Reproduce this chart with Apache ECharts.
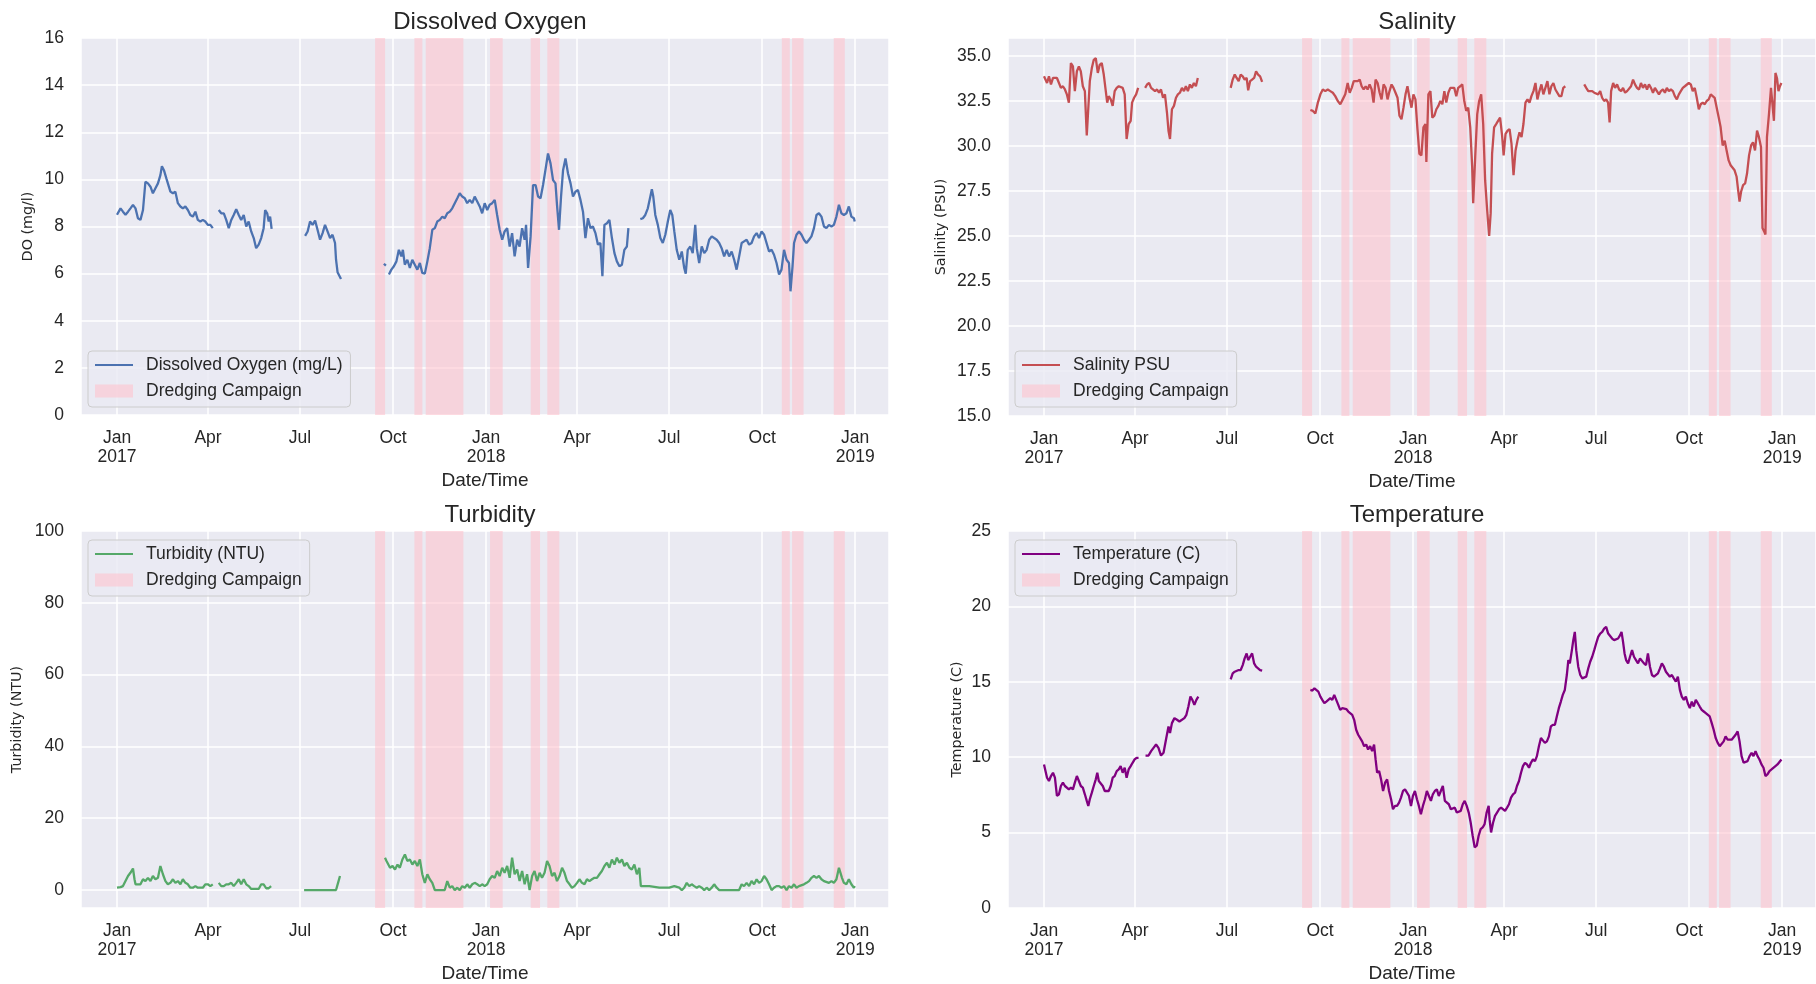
<!DOCTYPE html>
<html><head><meta charset="utf-8">
<script src="https://cdn.jsdelivr.net/npm/echarts@6/dist/echarts.min.js"></script>
<style>html,body{margin:0;padding:0;background:#fff}#c{width:1816px;height:984px}</style>
</head><body><div id="c"></div>
<script>
// ---------- DATA (x = days since 2017-01-01, null = gap in record) ----------
const monthLabels = ['Jan','Feb','Mar','Apr','May','Jun','Jul','Aug','Sep','Oct','Nov','Dec'];
const panelTitles = ['Dissolved Oxygen','Salinity','Turbidity','Temperature'];
const seriesNames = ['Dissolved Oxygen (mg/L)','Salinity PSU','Turbidity (NTU)','Temperature (C)'];
const yAxisNames = ['DO (mg/l)','Salinity (PSU)','Turbidity (NTU)','Temperature (C)'];
const xAxisName = 'Date/Time';
const dredgeName = 'Dredging Campaign';
// dredging campaigns [start day, end day] since 2017-01-01
const dredgeSpans = [[255.2,265.1],[294.1,302],[305.3,342.5],[368.9,381.4],[409.1,418.3],[425.5,437.4],[657.4,665.3],[667.6,678.9],[708.8,719.7]];

const doData = [
[0,8.5],[1,8.56],[3.5,8.77],[5.9,8.63],[8.4,8.5],[10.9,8.63],[13.3,8.77],[15.8,8.92],[18.3,8.77],[20.7,8.35],[23.2,8.28],[25.7,8.7],[28.1,9.9],[30.6,9.83],[33.1,9.69],[35.5,9.41],[38,9.62],[40.5,9.83],[42.9,10.18],[44.4,10.56],[46.4,10.39],[48.8,10.04],[51.3,9.69],[52.8,9.48],[55.3,9.41],[57.7,9.48],[60.2,8.99],[62.7,8.85],[65.1,8.77],[67.6,8.85],[70.1,8.7],[72.5,8.49],[75,8.42],[77.5,8.63],[79.9,8.28],[82.4,8.21],[84.9,8.28],[87.3,8.21],[89.8,8.07],[92.3,8.07],[94.7,7.93],
null,
[100.6,8.7],[103.1,8.56],[105.6,8.56],[108,8.28],[110.5,7.93],[113,8.28],[115.4,8.49],[117.9,8.73],[120.4,8.49],[122.8,8.28],[125.3,8.49],[127.8,8.0],[130.2,8.21],[132.7,7.79],[135.2,7.51],[137.6,7.08],[140.1,7.23],[142.6,7.51],[145,7.93],[146.5,8.7],[148.5,8.56],[150,8.21],[151.4,8.42],[152.9,7.9],
null,
[186,7.6],[188.5,7.79],[190.9,8.21],[193.4,8.07],[195.9,8.25],[198.3,7.86],[200.8,7.44],[203.3,7.72],[205.7,8.07],[208.2,7.79],[210.7,7.51],[213.1,7.65],[215.6,7.3],[216.6,6.59],[218.1,6.06],[220,6.03],[221.5,5.77],
null,
[263.9,6.42],[265.9,6.34],
null,
[268.9,5.96],[271.3,6.17],[273.8,6.31],[276.3,6.52],[278.7,7.01],[281.2,6.73],[282.7,7.01],[284.6,6.38],[287.1,6.59],[289.6,6.24],[292,6.59],[294.5,6.38],[297,6.17],[299.5,6.45],[301.9,6.03],[304.4,6.0],[306.9,6.52],[309.3,7.08],[311.8,7.86],[314.3,7.93],[316.7,8.21],[319.2,8.28],[321.7,8.42],[324.1,8.35],[326.6,8.56],[329.1,8.63],[331.5,8.77],[334,8.99],[336.5,9.2],[338.9,9.41],[341.4,9.27],[343.9,9.2],[346.3,8.99],[348.8,9.13],[351.3,8.99],[353.7,9.27],[356.2,9.06],[358.7,8.85],[361.1,8.56],[363.6,8.99],[366.1,8.7],[368.5,8.92],[371,8.99],[373.5,9.13],[375.9,8.49],[378.4,7.86],[380.9,7.44],[383.3,7.79],[385.8,7.93],[388.3,7.15],[390.7,7.72],[393.2,6.73],[395.7,7.44],[398.1,7.15],[400.6,7.93],[403.1,7.44],[404.5,8.07],[406.5,6.24],[409,7.58],[411.4,9.76],[413.9,9.76],[416.4,9.27],[418.8,9.2],[421.3,9.76],[424.2,10.54],[426.2,11.1],[428.7,10.68],[431.2,9.97],[433.6,9.83],[435.1,8.92],[437.1,7.86],[439.1,9.27],[441.1,10.39],[443.5,10.89],[446,10.25],[448.5,9.83],[450.9,9.27],[453.4,9.48],[455.8,9.55],[458.3,9.13],[460.8,8.63],[463.2,7.51],[465.7,8.35],[468.2,7.93],[470.6,8.0],[473.1,7.72],[475.6,7.23],[478,7.3],[480,5.89],[482,8.07],[484.5,8.14],[486.9,8.28],[489.4,7.51],[491.9,6.87],[494.3,6.52],[496.8,6.31],[499.3,6.38],[501.7,7.01],[504.2,7.15],[505.7,7.93],
null,
[517.5,8.31],[520,8.35],[522.4,8.49],[524.9,8.77],[527.4,9.27],[528.9,9.58],[530.3,9.27],[532.3,8.49],[534.8,8.07],[537.3,7.51],[539.7,7.3],[542.2,7.65],[544.7,8.21],[547.1,8.7],[549.1,8.49],[551.1,7.79],[553.5,7.01],[556,6.59],[558.5,6.94],[560.9,6.24],[562.4,6.0],[564.4,7.01],[566.9,7.15],[569.3,6.87],[571.8,8.07],[573.3,7.08],[575.7,6.45],[578.2,7.15],[580.7,6.87],[583.1,7.01],[585.6,7.44],[588.1,7.58],[590.5,7.51],[593,7.44],[595.5,7.3],[597.9,7.08],[600.4,6.73],[602.9,7.01],[605.3,6.73],[607.8,6.94],[610.3,6.59],[612.7,6.17],[615.2,6.73],[617.7,7.3],[620.1,7.37],[622.6,7.44],[625.1,7.23],[627.5,7.3],[630,7.58],[632.5,7.72],[634.9,7.51],[637.4,7.79],[639.9,7.65],[642.3,7.3],[644.8,6.94],[647.3,7.01],[649.7,6.8],[652.2,6.45],[654.7,5.96],[657.1,6.17],[659.6,7.01],[662.1,6.59],[664.5,6.45],[666,5.25],[668,6.31],[669.5,7.3],[671.9,7.65],[674.4,7.79],[676.9,7.65],[679.3,7.44],[681.8,7.3],[684.3,7.44],[686.7,7.58],[689.2,7.93],[691.7,8.49],[694.1,8.56],[696.6,8.42],[699.1,8.0],[701.5,7.93],[704,8.07],[706.5,8.0],[708.9,8.07],[711.4,8.42],[713.9,8.92],[716.3,8.56],[718.8,8.49],[721.3,8.56],[723.7,8.85],[726.2,8.42],[728.7,8.35],[729.5,8.21]
];

const salinityData = [
[0,33.87],[1,33.78],[3,33.5],[4.9,33.87],[6.9,33.42],[8.9,33.78],[10.8,33.69],[12.8,33.78],[14.8,33.5],[16.7,33.23],[18.7,33.32],[20.7,33.14],[22.6,32.87],[24.6,32.41],[26.6,34.61],[28.6,34.42],[30.5,33.05],[32.5,34.15],[34.5,34.42],[36.4,34.15],[38.4,33.32],[40.4,33.05],[42.3,30.58],[43.3,30.49],[45.3,33.6],[47.3,34.33],[49.2,34.79],[51.2,34.88],[53.2,34.06],[55.1,34.51],[57.1,34.61],[59.1,33.97],[61.1,33.05],[62.5,32.41],[64,32.77],[66,32.59],[67.9,32.23],[69.9,33.05],[71.9,33.23],[73.9,33.32],[75.8,33.42],[77.8,33.23],[79.8,32.87],[81.7,30.39],[83.7,31.22],[85.7,31.4],[87.1,32.41],[89.1,32.68],[91.1,32.87],[93.1,33.23],
null,
[100,33.23],[101.9,33.42],[103.9,33.5],[105.9,33.23],[107.8,33.32],[109.8,33.05],[111.8,33.14],[113.7,32.96],[115.7,33.14],[117.7,32.68],[119.6,32.87],[121.6,31.86],[123.1,30.85],[124.6,30.39],[126.5,32.04],[128.5,32.23],[130.5,32.68],[132.4,32.87],[134.4,32.96],[136.4,33.23],[138.4,33.05],[140.3,33.32],[142.3,33.05],[144.3,33.42],[146.2,33.23],[148.2,33.5],[150.2,33.32],[152.1,33.78],
null,
[184.6,33.23],[186.6,33.69],[188.6,33.97],[190.5,33.78],[192.5,33.6],[194.5,33.97],[196.5,33.87],[198.4,33.69],[200.4,33.78],[201.9,33.09],[203.8,33.6],[205.8,33.69],[207.8,33.78],[209.7,34.15],[211.7,33.97],[213.7,33.87],[215.7,33.56],
null,
[263.4,32.0],[265.9,31.95],[268.3,31.8],[270.8,32.41],[273.3,32.87],[275.7,33.14],[278.2,33.05],[280.6,33.14],[283.1,33.05],[285.6,32.96],[288,32.77],[290.5,32.5],[293,32.32],[295.4,32.59],[297.9,32.87],[300.3,33.5],[302.3,32.96],[304.3,33.23],[306.3,33.6],[308.2,33.69],[310.2,33.6],[312.2,33.69],[314.1,33.32],[316.1,33.14],[318.1,33.32],[320,33.14],[322,33.42],[324,33.14],[325.9,32.41],[327.9,33.69],[329.9,33.5],[331.9,32.96],[333.8,32.59],[335.8,33.42],[337.8,33.23],[339.7,32.59],[341.7,33.05],[343.7,33.42],[345.6,33.23],[347.6,32.96],[349.6,32.68],[351.5,31.68],[353.5,31.49],[355.5,32.13],[357.5,32.87],[359.4,33.32],[361.4,32.68],[363.4,32.13],[365.3,32.87],[367.3,32.59],[369.3,30.94],[371.2,29.57],[373.2,29.48],[375.2,31.04],[377.2,31.22],[378.1,29.11],[380.1,32.87],[382.1,33.05],[384,31.58],[386,31.68],[388,32.04],[390,32.23],[391.9,32.5],[393.9,32.32],[395.9,33.05],[397.8,32.41],[399.8,32.96],[401.8,33.23],[403.7,33.32],[405.7,33.23],[407.7,32.77],[409.6,33.23],[411.6,33.32],[413.6,33.42],[415.6,32.5],[417.5,31.95],[419.5,32.13],[421.5,31.04],[423.4,28.84],[424.4,26.82],[426.4,29.39],[428.4,31.77],[430.3,32.5],[432.3,32.87],[434.3,31.22],[436.2,28.1],[438.2,26.46],[440.2,25.0],[441.7,26.27],[443.1,29.57],[445.1,31.04],[447.1,31.22],[449,31.4],[451,31.58],[453,30.58],[454.5,29.48],[456.4,30.67],[458.4,30.85],[460.4,30.94],[462.3,30.12],[464.3,28.38],[466.3,29.75],[468.2,30.3],[470.2,30.76],[472.2,30.49],[474.1,31.22],[476.1,32.41],[478.1,32.59],[480.1,32.41],[482,32.77],[484,33.05],[486,33.5],[487.9,32.59],[489.9,33.05],[491.9,33.42],[493.8,32.87],[495.8,33.23],[497.8,33.6],[499.8,32.87],[501.7,33.32],[503.7,33.5],[505.7,33.14],[507.6,33.23],[509.6,32.77],[511.6,32.77],[513.5,33.23],[515.5,33.32],
null,
[534.2,33.42],[536.2,33.23],[538.2,33.05],[540.1,32.96],[542.1,33.05],[544.1,32.96],[546,33.05],[548,32.87],[550,33.05],[551.9,32.68],[553.9,32.5],[555.9,32.59],[557.8,32.41],[559.3,31.31],[560.8,33.05],[562.8,33.5],[564.7,33.23],[566.7,33.42],[568.7,33.14],[570.7,33.05],[572.6,33.23],[574.6,32.96],[576.6,33.05],[578.5,33.14],[580.5,33.32],[582.5,33.69],[584.4,33.42],[586.4,33.23],[588.4,33.14],[590.3,33.5],[592.3,33.23],[594.3,33.42],[596.3,33.14],[598.2,33.42],[600.2,33.23],[602.2,32.96],[604.1,33.23],[606.1,33.05],[608.1,32.87],[610,33.05],[612,33.14],[614,32.96],[615.9,33.23],[617.9,33.05],[619.9,33.14],[621.9,33.05],[623.8,32.77],[625.8,32.59],[627.8,32.87],[629.7,33.05],[631.7,33.23],[633.7,33.32],[635.6,33.42],[637.6,33.5],[639.6,33.42],[641.5,33.05],[643.5,33.23],[645.5,32.68],[647.5,32.04],[649.4,32.32],[651.4,32.41],[653.4,32.32],[655.3,32.5],[657.3,32.59],[659.3,32.87],[661.2,32.96],[663.2,32.68],[665.2,32.13],[667.2,31.58],[669.1,31.04],[671.1,30.03],[673.1,30.3],[675,29.75],[677,29.2],[679,28.93],[680.9,29.02],[682.9,28.65],[684.9,28.29],[686.4,27.55],[687.8,26.91],[689.3,27.46],[691.3,27.83],[693.3,27.92],[695.2,28.47],[697.2,29.48],[699.2,30.03],[701.1,30.21],[703.1,29.75],[705.1,30.85],[707,30.49],[709,29.94],[710.5,25.45],[712,25.27],[713.4,25.08],[714.9,30.49],[716.9,31.77],[718.9,33.23],[720.8,33.14],[721.8,31.4],[723.3,34.06],[724.8,33.78],[726.3,33.05],[727.7,33.32],[729.2,33.5]
];

const turbidityData = [
[0,0.65],[1,0.8],[3.5,0.8],[5.9,1.1],[8.4,2.5],[10.9,3.9],[13.3,4.8],[15.8,6.0],[17.3,3.0],[18.3,1.6],[20.7,1.6],[23.2,1.6],[25.7,3.0],[28.1,2.5],[30.6,3.4],[33.1,2.5],[35.5,3.9],[38,3.0],[40.5,3.4],[42.9,6.7],[45.4,4.4],[47.9,2.5],[50.3,1.6],[52.8,2.0],[55.3,3.0],[57.7,2.0],[60.2,2.5],[62.7,1.6],[65.1,3.0],[67.6,2.0],[70.1,1.6],[72.5,0.65],[75,0.65],[77.5,1.1],[79.9,0.65],[82.4,0.65],[84.9,0.65],[87.3,1.6],[89.8,1.6],[92.3,1.1],[94.7,1.6],
null,
[100.6,2.0],[103.1,1.1],[105.6,1.1],[108,1.6],[110.5,1.6],[113,2.0],[115.4,1.1],[117.9,2.0],[120.4,3.0],[122.8,1.6],[125.3,3.0],[127.8,1.6],[130.2,1.1],[132.7,0.3],[135.2,0.3],[137.6,0.3],[140.1,0.3],[142.6,1.6],[145,1.6],[147.5,0.5],[150,0.5],[152.4,1.1],
null,
[185,0],[195.9,0],[205.7,0],[216.6,0],[218.6,2.0],[220.5,3.9],
null,
[265,9.0],[266.5,8.1],[268,7.6],[270,6.2],[272.5,6.7],[274.9,5.7],[277.4,7.1],[279.7,6.2],[282.2,8.5],[284.7,9.9],[287.1,8.1],[289.6,8.5],[292.1,7.1],[294.5,8.1],[297,6.7],[299.5,8.5],[301.9,4.4],[304.4,2.0],[306.9,4.4],[309.3,3.0],[311.8,2.0],[314.3,0],[324.1,0],[326.6,2.5],[329.1,0.65],[331.5,1.1],[334,0],[336.5,0.65],[338.9,0],[341.4,1.1],[343.9,0.65],[346.3,1.6],[348.8,0.65],[351.3,1.6],[353.7,2.0],[356.2,1.6],[358.7,1.1],[361.1,1.6],[363.6,1.1],[366.1,1.6],[368.5,3.0],[371,3.9],[373.5,3.4],[375.9,5.3],[378.4,3.9],[380.9,6.2],[383.3,4.8],[385.8,6.7],[388.3,3.4],[390.7,9.0],[393.2,4.4],[395.7,5.7],[398.1,2.5],[400.6,5.3],[403.1,1.6],[405.5,4.4],[408,0],[410.5,3.9],[412.9,5.3],[415.4,2.5],[417.9,4.8],[420.3,3.4],[422.8,4.8],[425.3,8.1],[427.7,6.7],[430.2,3.9],[432.7,4.8],[435.1,2.5],[437.6,3.9],[440.1,6.2],[442.5,4.8],[445,2.5],[447.5,1.6],[449.9,0.65],[452.4,1.1],[454.9,2.0],[457.3,3.0],[459.8,2.0],[462.3,1.6],[464.7,3.0],[467.2,2.5],[469.7,3.0],[472.1,3.4],[474.6,3.4],[477.1,4.4],[479.5,5.3],[482,6.7],[484.5,7.6],[486.9,6.2],[489.4,8.5],[491.9,7.1],[494.3,9.0],[496.8,7.6],[499.3,8.5],[501.7,6.7],[504.2,7.6],[506.7,6.2],[509.1,5.7],[511.6,7.1],[514.1,4.4],[516.5,6.2],[518,1.1],[526.4,1.1],[536.3,0.65],[546.1,0.65],[551.1,1.1],[556,0.65],[558.5,0],[560.9,0.65],[563.4,2.0],[565.9,1.1],[568.3,1.6],[570.8,1.1],[573.3,0.65],[575.7,1.1],[578.2,0.65],[580.7,0],[583.1,0.65],[585.6,0],[588.1,0.65],[590.5,1.6],[593,0.65],[595.5,0],[615.2,0],[617.7,1.6],[620.1,1.1],[622.6,2.0],[625.1,1.1],[627.5,2.5],[630,1.6],[632.5,3.0],[634.9,2.0],[637.4,2.5],[639.9,3.9],[642.3,3.0],[644.8,1.6],[647.3,0],[649.7,0.65],[652.2,1.1],[654.7,1.1],[657.1,0.65],[659.6,1.1],[662.1,0],[664.5,1.1],[667,0.65],[669.5,1.6],[671.9,0.65],[674.4,1.1],[679.3,1.6],[681.8,2.0],[684.3,2.5],[686.7,3.4],[689.2,3.9],[691.7,3.4],[694.1,3.9],[696.6,3.0],[699.1,2.5],[704,2.0],[706.5,2.5],[708.9,2.0],[711.4,3.0],[713.9,6.2],[715.4,6.7],[716.9,3.4],[718.8,2.0],[721.3,1.6],[723.7,3.0],[726.2,1.6],[728.7,0.65],[729.5,1.1]
];

const temperatureData = [
[0,9.52],[1,9.52],[3,8.64],[4.9,8.42],[6.9,8.75],[8.9,8.97],[10.8,8.64],[12.8,7.43],[14.8,7.54],[16.7,8.09],[18.7,8.31],[20.7,8.09],[22.6,7.98],[24.6,7.87],[26.6,7.98],[28.6,7.87],[30.5,8.31],[32.5,8.75],[34.5,8.42],[36.4,8.09],[38.4,7.98],[40.4,7.54],[42.3,7.1],[43.8,6.77],[45.3,7.21],[47.3,7.65],[49.2,8.09],[51.2,8.53],[52.7,8.97],[54.2,8.42],[56.1,8.42],[58.1,8.09],[60.1,7.76],[62,7.87],[64,7.76],[66,8.09],[67.9,8.64],[69.9,8.75],[71.9,9.08],[73.9,9.19],[75.8,9.41],[77.8,8.97],[79.8,9.3],[81.7,8.64],[83.7,9.19],[85.7,9.41],[87.6,9.63],[89.6,9.85],[91.6,9.96],[93.5,9.96],
null,
[100.4,10.11],[103.4,10.11],[105.9,10.4],[108.3,10.62],[110.8,10.84],[113.2,10.62],[115.7,10.11],[118.2,10.29],[120.6,11.16],[123.1,12.04],[124.6,11.6],[126.5,12.26],[129,12.59],[131.5,12.48],[133.9,12.37],[136.4,12.48],[138.8,12.59],[140.8,12.81],[142.8,13.36],[144.8,14.02],[146.7,13.8],[148.7,13.47],[150.7,13.8],[152.6,14.02],
null,
[184.6,15.16],[186.6,15.56],[188.6,15.67],[190.5,15.67],[192.5,15.78],[194.5,15.78],[196.5,16.11],[198.4,16.55],[200.4,16.88],[201.9,16.44],[203.8,16.66],[205.8,16.88],[207.8,16.22],[209.7,16.0],[211.7,15.89],[213.7,15.78],[215.7,15.74],
null,
[263.4,14.46],[265.4,14.42],[267.4,14.57],[269.3,14.57],[271.3,14.35],[273.3,14.02],[275.2,13.8],[277.2,13.58],[279.2,13.69],[281.1,13.8],[283.1,13.91],[285.1,13.8],[287,14.13],[289,13.8],[291,13.47],[292.9,13.14],[295,13.25],[296.9,13.14],[298.9,13.19],[300.9,13.03],[302.8,12.92],[304.8,12.81],[306.7,12.48],[308.7,11.82],[310.7,11.49],[312.6,11.38],[314.6,11.05],[316.6,10.73],[318.6,10.84],[320.5,10.51],[322.5,10.73],[324.5,10.4],[326.4,10.84],[327.9,9.85],[329.4,8.97],[331.4,9.08],[333.3,8.53],[335.3,7.76],[337.3,8.31],[339.3,8.53],[341.2,7.76],[343.2,7.21],[345.1,6.55],[347.1,6.77],[349.1,6.77],[351.1,6.99],[353,7.32],[355,7.76],[357,7.87],[358.9,7.98],[360.9,7.43],[362.9,6.77],[364.8,7.43],[366.8,7.76],[368.8,7.21],[370.7,6.77],[372.7,6.22],[374.7,6.77],[376.7,7.21],[378.6,7.76],[380.6,7.43],[382.6,7.1],[384.5,7.54],[386.5,7.76],[388.5,7.87],[390.4,7.43],[392.4,7.76],[394.4,8.09],[396.4,7.1],[398.3,6.99],[400.3,6.88],[402.3,6.55],[404.2,6.55],[406.2,6.66],[408.2,6.33],[410.1,6.22],[412.1,6.44],[414.1,6.88],[416,7.1],[418,6.77],[420,6.33],[421.9,5.67],[423.9,4.79],[425.9,4.02],[427.9,4.13],[429.8,4.79],[431.8,5.23],[433.8,5.34],[435.7,5.56],[437.7,6.33],[439.7,6.77],[440.6,5.89],[442.1,5.01],[444.1,5.67],[446,6.11],[448,6.33],[450,6.55],[452,6.66],[453.9,6.55],[455.9,6.44],[457.9,6.66],[459.8,6.88],[461.8,7.32],[463.8,7.54],[465.8,7.65],[467.7,8.09],[469.7,8.42],[471.7,8.97],[473.6,9.41],[475.6,9.63],[477.6,9.52],[479.6,9.3],[481.5,9.63],[483.5,9.85],[485.5,9.74],[487.4,10.07],[489.4,10.73],[491.4,11.27],[493.3,11.27],[495.3,10.95],[497.3,11.05],[499.3,11.38],[501.2,12.04],[503.2,12.15],[505.2,12.15],[507.1,12.7],[509.1,13.25],[511.1,13.69],[513,14.13],[515,14.46],[517,15.45],[518.5,16.44],[520,16.22],[522,17.1],[523.4,17.76],[524.9,18.31],[526.3,17.1],[528.3,16.0],[530.3,15.45],[532.3,15.23],[534.2,15.12],[536.2,15.34],[538.2,15.89],[540.1,16.33],[542.1,16.66],[544.1,17.1],[546,17.54],[548,17.98],[550,18.2],[552,18.31],[553.9,18.53],[555.9,18.64],[557.9,18.2],[559.8,18.09],[561.8,17.87],[563.8,17.76],[565.7,17.65],[567.7,17.87],[569.7,18.09],[571.1,18.31],[572.6,17.65],[574.1,16.88],[575.6,16.44],[577.6,16.22],[579.5,16.66],[581.5,17.1],[583.4,16.66],[585.4,16.44],[587.4,16.22],[589.4,16.55],[591.3,16.66],[593.3,16.22],[595.3,16.11],[597.2,16.88],[599.2,16.0],[601.2,15.45],[603.2,15.34],[605.1,15.45],[607.1,15.56],[609.1,15.89],[611,16.22],[613,16.0],[615,15.67],[616.9,15.56],[618.9,15.34],[620.9,15.45],[622.8,15.23],[624.8,15.01],[626.8,15.34],[628.8,14.46],[630.7,14.02],[632.7,13.8],[634.7,14.02],[636.6,13.58],[638.6,13.25],[640.6,13.69],[642.5,13.36],[644.5,13.8],[646.5,13.58],[648.4,13.36],[650.4,13.14],[652.4,13.03],[654.4,12.92],[656.3,13.03],[658.3,12.7],[660.3,12.26],[662.2,11.82],[664.2,11.27],[666.2,10.95],[668.2,10.73],[670.1,10.62],[672.1,11.05],[674,11.38],[676,11.16],[678,11.16],[680,11.16],[681.9,11.27],[683.9,11.49],[685.9,11.71],[687.8,11.05],[689.8,10.07],[691.8,9.63],[693.7,9.63],[695.7,9.74],[697.7,10.07],[699.7,10.29],[701.6,10.07],[703.6,10.4],[705.6,10.07],[707.5,9.85],[709.5,9.52],[711.5,9.3],[713.4,8.75],[715.4,8.86],[717.4,9.08],[719.4,9.19],[721.3,9.3],[723.3,9.41],[725.3,9.52],[727.2,9.63],[729.2,9.85]
];

const seriesData = [doData, salinityData, turbidityData, temperatureData];
const seriesColors = ['#4C72B0','#C44E52','#55A868','#800080'];

// ---------- BUILD ----------
const DAY = 86400000;
const BASE = new Date(2017,0,1).getTime();
const toT = d => BASE + d * DAY;
function buildLine(arr){
  const out = []; let last = 0;
  arr.forEach(p => {
    if (p === null) out.push([toT(last + 0.5), '-']);
    else { out.push([toT(p[0]), p[1]]); last = p[0]; }
  });
  return out;
}
const FONT = '"Liberation Sans", Arial, sans-serif';
const TXT = '#262626';
const PINK = 'rgba(255,192,203,0.55)';
const grids = [
  {left:81, top:38, width:808, height:377},
  {left:1008, top:38, width:808, height:378},
  {left:81, top:531, width:808, height:378},
  {left:1008, top:531, width:808, height:378}
];
const yCfg = [
  {min:0, max:16, interval:2, nameGap:46},
  {min:15, max:36, interval:2.5, nameGap:60, fmt: v => v.toFixed(1)},
  {min:-5, max:100, nameGap:57},
  {min:0, max:25, interval:5, nameGap:44}
];
const legendTops = [351, 351, 540, 540];
const titleTops = [5, 5, 498, 498];

const option = {
  animation: false,
  backgroundColor: '#ffffff',
  title: panelTitles.map((t, i) => ({
    text: t, left: grids[i].left + grids[i].width / 2, top: titleTops[i], textAlign: 'center',
    textStyle: {fontSize: 24, fontWeight: 'normal', color: TXT, fontFamily: FONT}
  })),
  grid: grids.map(g => Object.assign({show: true, backgroundColor: '#EAEAF2', borderWidth: 0, containLabel: false}, g)),
  legend: grids.map((g, i) => ({
    orient: 'vertical', left: g.left + 7, top: legendTops[i],
    data: [
      {name: seriesNames[i], itemStyle: {color: 'rgba(0,0,0,0)', opacity: 0, borderWidth: 0}},
      {name: dredgeName, icon: 'rect', itemStyle: {color: PINK, opacity: 1}}
    ],
    itemWidth: 38, itemHeight: 13, itemGap: 6, padding: [4, 8, 6, 6],
    backgroundColor: 'rgba(234,234,242,0.8)', borderColor: '#cccccc', borderWidth: 1, borderRadius: 4,
    selectedMode: false,
    textStyle: {fontSize: 17.5, color: TXT, fontFamily: FONT, padding: [0, 0, 0, 8], lineHeight: 20}
  })),
  xAxis: grids.map((g, i) => ({
    type: 'time', gridIndex: i,
    min: toT(-35.6), max: toT(763.4),
    minInterval: 91.5 * DAY, maxInterval: 92 * DAY, splitNumber: 8,
    axisLine: {show: false}, axisTick: {show: false},
    splitLine: {show: true, lineStyle: {color: '#ffffff', width: 1.5}},
    axisLabel: {
      fontSize: 17.5, color: TXT, fontFamily: FONT, margin: 14, lineHeight: 19,
      showMinLabel: false, showMaxLabel: false, hideOverlap: false,
      formatter: function (val) {
        const d = new Date(val); const m = d.getMonth();
        return m === 0 ? monthLabels[0] + '\n' + d.getFullYear() : monthLabels[m];
      }
    },
    name: xAxisName, nameLocation: 'middle', nameGap: 56,
    nameTextStyle: {fontSize: 19, color: TXT, fontFamily: FONT}
  })),
  yAxis: grids.map((g, i) => {
    const c = yCfg[i];
    const ax = {
      type: 'value', gridIndex: i, min: c.min, max: c.max,
      axisLine: {show: false}, axisTick: {show: false},
      splitLine: {show: true, lineStyle: {color: '#ffffff', width: 1.5}},
      axisLabel: {fontSize: 17.5, color: TXT, fontFamily: FONT, margin: 17, showMinLabel: i !== 2, showMaxLabel: i !== 1},
      name: yAxisNames[i], nameLocation: 'middle', nameRotate: 90, nameGap: c.nameGap,
      nameTextStyle: {fontSize: 14.3, color: TXT, fontFamily: '"DejaVu Sans", sans-serif'}
    };
    if (c.interval) ax.interval = c.interval;
    if (c.fmt) ax.axisLabel.formatter = c.fmt;
    return ax;
  }),
  series: []
};

grids.forEach((g, i) => {
  option.series.push({
    name: seriesNames[i], type: 'line', xAxisIndex: i, yAxisIndex: i,
    data: buildLine(seriesData[i]), symbol: 'none', connectNulls: false,
    lineStyle: {color: seriesColors[i], width: 2.3}, itemStyle: {color: seriesColors[i]},
    z: 3, silent: true,
    markArea: {
      silent: true, itemStyle: {color: PINK}, label: {show: false},
      data: dredgeSpans.map(s => [{xAxis: toT(s[0])}, {xAxis: toT(s[1])}])
    }
  });
  option.series.push({
    name: dredgeName, type: 'line', xAxisIndex: i, yAxisIndex: i, data: [],
    symbol: 'none', itemStyle: {color: PINK}, lineStyle: {color: PINK}
  });
});

const chart = echarts.init(document.getElementById('c'), null, {renderer: 'canvas'});
chart.setOption(option);
</script>
</body></html>
